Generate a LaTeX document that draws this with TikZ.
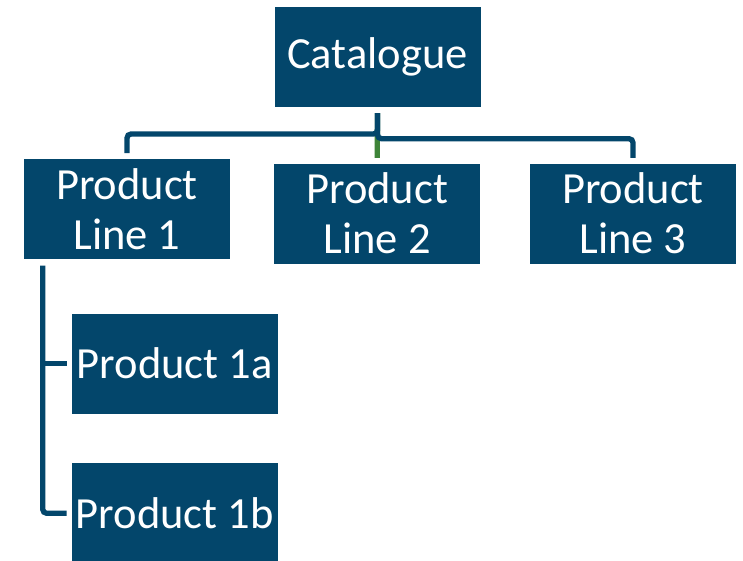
\documentclass[tikz,border=0pt]{standalone}
\usepackage{fontspec}
\setmainfont{Carlito}
\definecolor{boxblue}{RGB}{3,70,107}
\definecolor{linkgreen}{RGB}{62,132,56}
\tikzset{
  orgbox/.style={rectangle, fill=boxblue, draw=none, text=white,
    minimum width=206pt, minimum height=100pt, inner sep=0pt, align=center,
    font=\fontsize{44.5}{50}\selectfont},
  link/.style={draw=boxblue, line width=5.3pt, rounded corners=4pt},
  greenlink/.style={draw=linkgreen, line width=5.3pt}
}
\begin{document}
\begin{tikzpicture}[x=1pt,y=-1pt]
  \useasboundingbox (0,0) rectangle (743,561);
  \fill[white] (0,0) rectangle (743,561);

  % boxes
  \node[orgbox] (cat) at (377.5,57) {Catalogue};
  \node[orgbox] (pl1) at (127,209.3) {Product\\Line 1};
  \node[orgbox] (pl2) at (377.2,213.7) {Product\\Line 2};
  \node[orgbox] (pl3) at (633,213.7) {Product\\Line 3};
  \node[orgbox] (p1a) at (174.7,363.7) {Product 1a};
  \node[orgbox] (p1b) at (174.7,513.3) {Product 1b};

  % junction points of the elbow connectors, kept a small gap off the boxes
  \coordinate (top) at ([yshift=-6pt]cat.south);
  \coordinate (pl1in) at ([yshift=6pt]pl1.north);
  \coordinate (pl2in) at ([yshift=5.6pt]pl2.north);
  \coordinate (pl3in) at ([yshift=5.6pt]pl3.north);
  \coordinate (stem) at ([xshift=-84.3pt,yshift=-6pt]pl1.south);

  % connectors from the catalogue
  \draw[greenlink] (top) -- (pl2in);
  \draw[link] (top) |- (127,134) -- (pl1in);
  \draw[link] (top) |- (633,138.7) -- (pl3in);

  % connectors under product line 1
  \draw[link] (stem) |- ([xshift=-5pt]p1b.west);
  \draw[link] (stem |- p1a.west) -- ([xshift=-5pt]p1a.west);
\end{tikzpicture}
\end{document}
